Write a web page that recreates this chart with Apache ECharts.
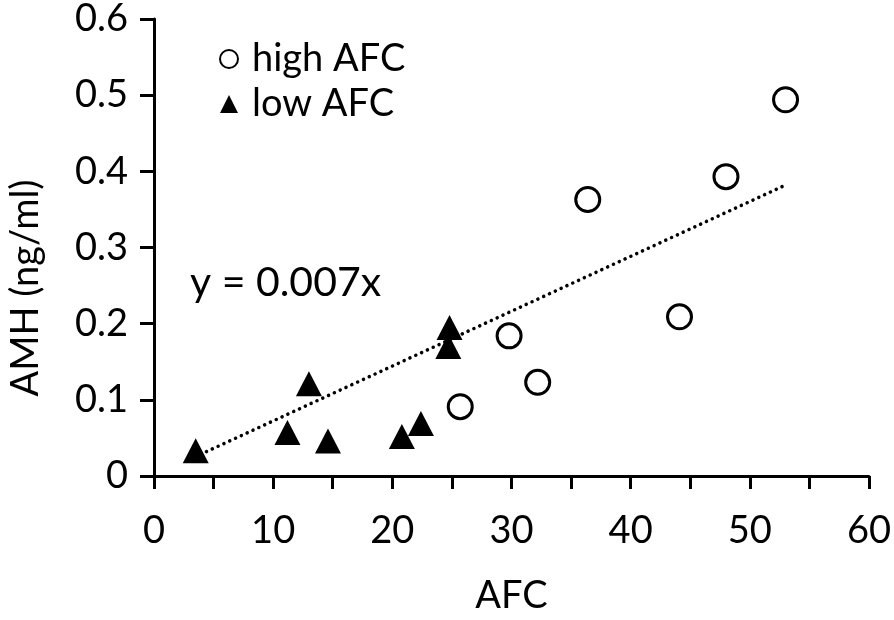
<!DOCTYPE html>
<html>
<head>
<meta charset="utf-8">
<script src="https://cdn.jsdelivr.net/npm/echarts@6/dist/echarts.min.js"></script>
<style>html,body{margin:0;padding:0;background:#fff}#c{width:894px;height:620px}</style>
</head>
<body>
<div id="c"></div>
<script>
// Data
var highAFC_x = [25.7, 29.8, 32.2, 36.4, 44.1, 48.0, 53.0];
var highAFC_y = [0.091, 0.184, 0.123, 0.363, 0.209, 0.393, 0.494];
var lowAFC_x = [3.5, 11.2, 13.0, 14.6, 20.8, 22.4, 24.7, 24.8];
var lowAFC_y = [0.033, 0.057, 0.121, 0.046, 0.052, 0.069, 0.170, 0.195];
var fit_x = [4.4, 53.0];
var fit_y = [0.032, 0.382];
var xTicks = [0, 10, 20, 30, 40, 50, 60];
var yTicks = [0, 0.1, 0.2, 0.3, 0.4, 0.5, 0.6];
var equationText = 'y = 0.007x';

function zip(a, b) { return a.map(function (v, i) { return [v, b[i]]; }); }

var FONT = 'Lato';
var FS = 38;
var chart = echarts.init(document.getElementById('c'), null, { renderer: 'canvas' });
chart.setOption({
  backgroundColor: '#fff',
  animation: false,
  textStyle: { fontFamily: FONT, color: '#000' },
  grid: { left: 154, right: 16, top: 16, bottom: 131 },
  legend: {
    orient: 'vertical', left: 214, top: 35, itemGap: 7,
    itemWidth: 18, itemHeight: 18,
    textStyle: { fontFamily: FONT, fontSize: FS, color: '#000', padding: [0, 0, 0, 9] },
    data: [
      { name: 'high AFC', icon: 'circle', itemStyle: { color: '#fff', borderColor: '#000', borderWidth: 2 } },
      { name: 'low AFC', icon: 'triangle', itemStyle: { color: '#000', borderWidth: 0 } }
    ]
  },
  xAxis: {
    type: 'value', min: 0, max: 60, interval: 5,
    name: 'AFC', nameLocation: 'middle', nameGap: 101,
    nameTextStyle: { fontFamily: FONT, fontSize: FS, color: '#000' },
    axisLine: { onZero: false, lineStyle: { color: '#000', width: 3 } },
    axisTick: { show: true, length: 13, lineStyle: { color: '#000', width: 3 } },
    axisLabel: {
      fontFamily: FONT, fontSize: FS, color: '#000', margin: 36,
      formatter: function (v) { return xTicks.indexOf(v) >= 0 ? String(v) : ''; }
    },
    splitLine: { show: false }
  },
  yAxis: {
    type: 'value', min: 0, max: 0.6, interval: 0.1,
    axisLine: { onZero: false, lineStyle: { color: '#000', width: 3 } },
    axisTick: { show: true, length: 14, lineStyle: { color: '#000', width: 3 } },
    axisLabel: {
      fontFamily: FONT, fontSize: FS, color: '#000', margin: 26,
      formatter: function (v) {
        for (var i = 0; i < yTicks.length; i++) if (Math.abs(yTicks[i] - v) < 1e-9) return String(yTicks[i]);
        return '';
      }
    },
    splitLine: { show: false }
  },
  graphic: [
    { type: 'text', left: 190, top: 262, style: { text: equationText, font: '41px ' + FONT, fill: '#000' } },
    { type: 'text', x: 26, y: 288, rotation: Math.PI / 2, style: { text: 'AMH (ng/ml)', font: FS + 'px ' + FONT, fill: '#000', align: 'center', verticalAlign: 'middle' } }
  ],
  series: [
    {
      name: 'fit', type: 'line', data: zip(fit_x, fit_y), symbol: 'none', z: 1,
      lineStyle: { color: '#000', width: 3.5, type: [0.1, 6.3], cap: 'round' }
    },
    {
      name: 'high AFC', type: 'scatter', data: zip(highAFC_x, highAFC_y), symbol: 'circle', symbolSize: 24, z: 3,
      itemStyle: { color: '#fff', borderColor: '#000', borderWidth: 3, opacity: 1 }
    },
    {
      name: 'low AFC', type: 'scatter', data: zip(lowAFC_x, lowAFC_y), symbol: 'triangle', symbolSize: [26, 25], z: 3,
      itemStyle: { color: '#000', opacity: 1 }
    }
  ]
});
</script>
</body>
</html>
